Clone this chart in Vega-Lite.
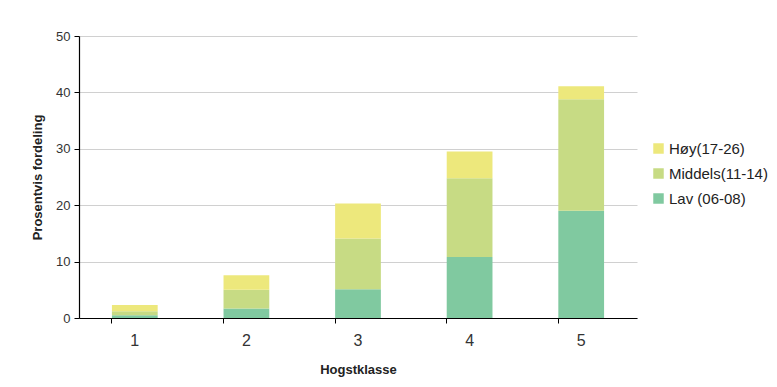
{
  "$schema": "https://vega.github.io/schema/vega-lite/v6.json",
  "width": 558,
  "height": 282,
  "autosize": {"type": "none"},
  "padding": {"left": 79, "top": 36, "right": 140, "bottom": 69},
  "background": "white",
  "config": {
    "font": "Liberation Sans",
    "view": {"stroke": null}
  },
  "data": {
    "values": [
      {"klasse": "1", "gruppe": "Lav (06-08)", "rekke": 1, "verdi": 0.5},
      {"klasse": "1", "gruppe": "Middels(11-14)", "rekke": 2, "verdi": 0.7},
      {"klasse": "1", "gruppe": "Høy(17-26)", "rekke": 3, "verdi": 1.1},
      {"klasse": "2", "gruppe": "Lav (06-08)", "rekke": 1, "verdi": 1.7},
      {"klasse": "2", "gruppe": "Middels(11-14)", "rekke": 2, "verdi": 3.3},
      {"klasse": "2", "gruppe": "Høy(17-26)", "rekke": 3, "verdi": 2.6},
      {"klasse": "3", "gruppe": "Lav (06-08)", "rekke": 1, "verdi": 5.1},
      {"klasse": "3", "gruppe": "Middels(11-14)", "rekke": 2, "verdi": 9.0},
      {"klasse": "3", "gruppe": "Høy(17-26)", "rekke": 3, "verdi": 6.2},
      {"klasse": "4", "gruppe": "Lav (06-08)", "rekke": 1, "verdi": 10.8},
      {"klasse": "4", "gruppe": "Middels(11-14)", "rekke": 2, "verdi": 14.0},
      {"klasse": "4", "gruppe": "Høy(17-26)", "rekke": 3, "verdi": 4.7},
      {"klasse": "5", "gruppe": "Lav (06-08)", "rekke": 1, "verdi": 19.0},
      {"klasse": "5", "gruppe": "Middels(11-14)", "rekke": 2, "verdi": 19.8},
      {"klasse": "5", "gruppe": "Høy(17-26)", "rekke": 3, "verdi": 2.3}
    ]
  },
  "mark": {"type": "bar"},
  "encoding": {
    "x": {
      "field": "klasse",
      "type": "ordinal",
      "scale": {"paddingInner": 0.59, "paddingOuter": 0.295},
      "axis": {
        "title": "Hogstklasse",
        "titleFontSize": 13,
        "titleFontWeight": "bold",
        "titleColor": "#222222",
        "titlePadding": 15,
        "labelAngle": 0,
        "labelFontSize": 16,
        "labelColor": "#333333",
        "labelPadding": 9,
        "bandPosition": 0,
        "domainColor": "#000000",
        "domainWidth": 1.2,
        "tickColor": "#000000",
        "tickSize": 5,
        "grid": false
      }
    },
    "y": {
      "field": "verdi",
      "type": "quantitative",
      "stack": "zero",
      "scale": {"domain": [0, 50]},
      "axis": {
        "title": "Prosentvis fordeling",
        "titleFontSize": 13,
        "titleFontWeight": "bold",
        "titleColor": "#222222",
        "titlePadding": 11,
        "values": [0, 10, 20, 30, 40, 50],
        "labelFontSize": 13,
        "labelColor": "#333333",
        "labelPadding": 4,
        "domainColor": "#000000",
        "domainWidth": 1.2,
        "tickColor": "#000000",
        "tickSize": 5,
        "gridColor": "#d0d0d0",
        "gridWidth": 1
      }
    },
    "color": {
      "field": "gruppe",
      "type": "nominal",
      "sort": ["Høy(17-26)", "Middels(11-14)", "Lav (06-08)"],
      "scale": {
        "domain": ["Høy(17-26)", "Middels(11-14)", "Lav (06-08)"],
        "range": ["#ede87c", "#c7db84", "#80c9a0"]
      },
      "legend": {
        "title": null,
        "orient": "none",
        "legendX": 572,
        "legendY": 105,
        "symbolType": "square",
        "symbolSize": 110,
        "symbolStrokeWidth": 0,
        "labelFontSize": 15,
        "labelColor": "#222222",
        "labelOffset": 3,
        "rowPadding": 9
      }
    },
    "order": {"field": "rekke", "type": "quantitative", "sort": "ascending"}
  }
}
